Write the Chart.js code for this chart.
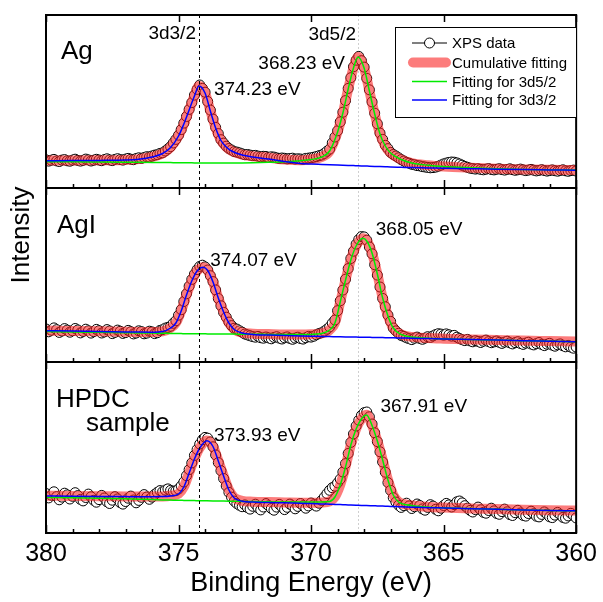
<!DOCTYPE html>
<html>
<head>
<meta charset="utf-8">
<title>Ag 3d XPS spectra</title>
<script src="https://cdn.jsdelivr.net/npm/chart.js@4.4.1/dist/chart.umd.min.js"></script>
<style>
  html, body { margin: 0; padding: 0; background: #ffffff; }
  canvas { display: block; }
</style>
</head>
<body>
<canvas id="xps" width="603" height="602"></canvas>
<script>
// ---------- measured spectra (binding energy in eV, intensity in a.u.) ----------
const dataEnergy = [
  380.0, 379.9, 379.8, 379.7, 379.6, 379.5, 379.4, 379.3, 379.2, 379.1,
  379.0, 378.9, 378.8, 378.7, 378.6, 378.5, 378.4, 378.3, 378.2, 378.1,
  378.0, 377.9, 377.8, 377.7, 377.6, 377.5, 377.4, 377.3, 377.2, 377.1,
  377.0, 376.9, 376.8, 376.7, 376.6, 376.5, 376.4, 376.3, 376.2, 376.1,
  376.0, 375.9, 375.8, 375.7, 375.6, 375.5, 375.4, 375.3, 375.2, 375.1,
  375.0, 374.9, 374.8, 374.7, 374.6, 374.5, 374.4, 374.3, 374.2, 374.1,
  374.0, 373.9, 373.8, 373.7, 373.6, 373.5, 373.4, 373.3, 373.2, 373.1,
  373.0, 372.9, 372.8, 372.7, 372.6, 372.5, 372.4, 372.3, 372.2, 372.1,
  372.0, 371.9, 371.8, 371.7, 371.6, 371.5, 371.4, 371.3, 371.2, 371.1,
  371.0, 370.9, 370.8, 370.7, 370.6, 370.5, 370.4, 370.3, 370.2, 370.1,
  370.0, 369.9, 369.8, 369.7, 369.6, 369.5, 369.4, 369.3, 369.2, 369.1,
  369.0, 368.9, 368.8, 368.7, 368.6, 368.5, 368.4, 368.3, 368.2, 368.1,
  368.0, 367.9, 367.8, 367.7, 367.6, 367.5, 367.4, 367.3, 367.2, 367.1,
  367.0, 366.9, 366.8, 366.7, 366.6, 366.5, 366.4, 366.3, 366.2, 366.1,
  366.0, 365.9, 365.8, 365.7, 365.6, 365.5, 365.4, 365.3, 365.2, 365.1,
  365.0, 364.9, 364.8, 364.7, 364.6, 364.5, 364.4, 364.3, 364.2, 364.1,
  364.0, 363.9, 363.8, 363.7, 363.6, 363.5, 363.4, 363.3, 363.2, 363.1,
  363.0, 362.9, 362.8, 362.7, 362.6, 362.5, 362.4, 362.3, 362.2, 362.1,
  362.0, 361.9, 361.8, 361.7, 361.6, 361.5, 361.4, 361.3, 361.2, 361.1,
  361.0, 360.9, 360.8, 360.7, 360.6, 360.5, 360.4, 360.3, 360.2, 360.1,
  360.0
];

const agData = [
  28.2, 26.9, 27.8, 28.6, 27.1, 26.5, 27.9, 28.4, 27.2, 26.8,
  27.9, 28.8, 27.6, 26.9, 27.7, 28.9, 28.1, 27.0, 27.8, 28.7,
  28.0, 27.3, 28.4, 29.2, 28.1, 27.4, 28.6, 29.3, 28.4, 27.9,
  28.9, 29.6, 28.8, 28.3, 29.5, 30.2, 29.6, 30.5, 31.3, 31.0,
  32.0, 32.9, 33.4, 34.6, 35.2, 37.0, 39.1, 41.4, 45.0, 48.6,
  52.8, 58.4, 64.9, 71.5, 78.6, 85.4, 92.9, 98.6, 103.0, 99.6,
  95.8, 86.5, 77.9, 68.9, 60.6, 54.4, 48.3, 44.9, 41.8, 39.5,
  38.0, 36.4, 35.9, 35.1, 34.2, 33.3, 33.5, 32.9, 32.4, 32.6,
  31.9, 31.2, 31.7, 31.5, 30.6, 31.2, 30.9, 30.1, 29.6, 30.0,
  29.7, 29.1, 29.5, 29.8, 28.9, 29.2, 29.0, 28.7, 29.6, 29.9,
  30.2, 30.8, 31.4, 32.3, 33.0, 34.6, 36.8, 38.9, 45.1, 51.0,
  57.2, 66.1, 75.8, 87.4, 99.6, 110.3, 121.2, 127.8, 131.6, 127.3,
  120.9, 109.7, 98.2, 86.1, 74.8, 64.2, 54.9, 48.6, 42.7, 39.4,
  35.6, 33.5, 32.0, 30.2, 28.4, 27.0, 25.6, 24.8, 23.7, 23.2,
  22.4, 22.1, 21.4, 21.0, 20.6, 20.2, 20.4, 20.9, 21.8, 22.9,
  24.1, 24.9, 25.6, 26.0, 25.8, 25.1, 24.0, 22.8, 21.6, 20.7,
  19.8, 19.4, 18.9, 19.3, 18.6, 18.2, 18.8, 19.4, 18.5, 18.1,
  18.7, 19.3, 18.4, 17.9, 18.6, 19.2, 18.3, 17.7, 18.2, 18.9,
  18.1, 17.4, 17.9, 18.6, 17.8, 17.1, 17.6, 18.3, 17.5, 16.9,
  17.4, 18.1, 17.3, 16.8, 17.5, 18.2, 17.2, 16.7, 17.4, 17.9,
  17.0
];

const agiData = [
  33.0, 30.2, 31.8, 34.1, 32.3, 29.6, 31.0, 33.4, 31.9, 29.8,
  31.2, 33.5, 32.0, 29.1, 30.6, 32.8, 31.2, 28.9, 30.4, 32.6,
  31.3, 29.0, 30.1, 32.4, 31.0, 28.4, 29.6, 31.9, 30.7, 28.6,
  29.4, 31.6, 30.3, 28.1, 29.0, 31.2, 30.4, 28.2, 28.9, 30.8,
  30.1, 28.4, 29.3, 31.6, 32.4, 33.9, 34.6, 35.8, 38.7, 41.2,
  46.8, 52.3, 60.5, 68.2, 75.8, 82.6, 87.9, 92.4, 95.6, 96.8,
  95.1, 92.0, 86.3, 80.4, 72.0, 63.5, 56.2, 49.6, 44.8, 39.9,
  36.4, 33.8, 32.9, 31.2, 29.8, 28.0, 27.1, 26.2, 25.4, 24.8,
  25.6, 24.3, 23.8, 25.0, 24.1, 23.2, 24.6, 25.3, 23.9, 23.0,
  24.2, 25.1, 23.6, 22.7, 23.9, 24.8, 23.5, 22.9, 24.3, 25.6,
  24.9, 25.8, 27.2, 28.5, 29.3, 30.9, 32.8, 35.1, 38.9, 42.0,
  51.3, 61.2, 71.9, 82.8, 93.4, 103.5, 110.8, 117.9, 122.6, 125.4,
  125.1, 121.8, 115.0, 108.2, 97.3, 86.9, 75.0, 63.6, 55.2, 46.9,
  40.6, 34.0, 31.1, 28.7, 26.5, 25.6, 24.2, 23.3, 22.4, 23.8,
  24.9, 23.6, 22.7, 23.9, 25.3, 24.6, 26.1, 27.4, 28.3, 27.9,
  26.8, 28.1, 27.2, 25.9, 26.6, 24.8, 23.5, 22.3, 21.4, 22.6,
  21.1, 20.2, 21.3, 20.6, 19.5, 20.8, 21.9, 20.4, 19.3, 20.1,
  21.0, 19.7, 18.6, 19.9, 20.8, 19.2, 18.1, 19.4, 20.3, 18.5,
  17.6, 18.9, 19.8, 18.0, 17.1, 18.4, 19.5, 17.6, 16.4, 17.8,
  18.7, 16.9, 15.8, 17.2, 18.1, 16.3, 15.2, 16.6, 14.9, 13.8,
  15.0
];

const hpdcData = [
  39.5, 35.1, 37.8, 41.2, 36.4, 33.2, 35.9, 39.8, 38.1, 34.0,
  36.7, 40.3, 37.4, 33.6, 32.1, 35.5, 38.9, 36.2, 32.7, 30.8,
  33.4, 37.6, 35.0, 31.2, 29.5, 32.8, 36.3, 34.1, 30.4, 28.9,
  31.5, 34.8, 36.9, 33.0, 30.2, 32.6, 35.7, 38.4, 36.0, 33.7,
  35.9, 38.6, 40.7, 42.4, 41.3, 42.9, 44.1, 42.6, 41.8, 42.3,
  44.0, 47.1, 51.0, 57.3, 63.4, 70.1, 77.6, 83.5, 89.0, 93.2,
  95.6, 94.8, 91.1, 86.2, 78.0, 70.4, 62.3, 54.5, 47.1, 40.6,
  35.8, 31.9, 29.4, 27.7, 26.3, 28.1, 25.4, 23.9, 26.7, 28.8,
  25.2, 23.1, 26.0, 29.4, 27.2, 24.5, 22.8, 25.9, 28.6, 26.1,
  23.4, 25.7, 28.9, 27.0, 24.2, 26.6, 29.5, 27.3, 24.8, 27.1,
  30.0, 28.2, 26.9, 29.8, 32.6, 35.9, 39.4, 42.7, 45.3, 46.8,
  50.1, 53.9, 61.0, 69.4, 79.5, 90.6, 99.1, 107.0, 112.8, 117.6,
  120.3, 121.0, 116.2, 109.0, 100.1, 91.4, 81.2, 71.0, 60.8, 50.4,
  42.6, 35.3, 30.9, 27.8, 25.6, 27.4, 29.8, 27.1, 24.5, 26.3,
  29.0, 27.5, 24.1, 22.8, 25.6, 28.3, 26.9, 23.7, 22.2, 24.8,
  27.5, 29.6, 28.1, 26.0, 28.4, 31.2, 32.0, 30.1, 27.3, 24.9,
  22.6, 21.0, 23.4, 25.9, 23.2, 20.7, 19.8, 22.5, 24.8, 22.1,
  19.6, 18.7, 21.4, 23.9, 21.2, 18.4, 17.5, 20.3, 22.7, 20.0,
  17.6, 16.9, 19.5, 21.8, 19.3, 16.8, 16.1, 18.6, 21.1, 18.9,
  16.2, 15.4, 17.9, 20.6, 18.4, 15.6, 14.8, 17.1, 19.7, 17.6,
  15.1
];

// ---------- peak fitting results ----------
const agFitEnergy = [
  380, 379, 378, 377, 376.5, 376, 375.6, 375.3, 375.0, 374.8,
  374.6, 374.4, 374.23, 374.0, 373.8, 373.6, 373.4, 373.2, 373.0, 372.6,
  372.2, 371.6, 371, 370.4, 370, 369.6, 369.3, 369.0, 368.8, 368.6,
  368.4, 368.23, 368.0, 367.8, 367.6, 367.4, 367.2, 367.0, 366.6, 366.2,
  365.6, 365, 364, 363, 362, 361, 360
];
const agCumulative = [
  27.4, 27.5, 27.7, 28.1, 28.9, 31.1, 34.6, 40.6, 52.1, 64.1,
  78.1, 92.1, 102.1, 95.1, 77.1, 60.1, 47.6, 41.1, 37.1, 33.4,
  31.8, 30.3, 28.5, 27.8, 28.7, 31.0, 37.0, 56.0, 75.0, 99.0,
  120.0, 131.0, 120.0, 97.0, 74.0, 54.0, 42.0, 35.0, 28.5, 25.0,
  22.8, 21.5, 20.2, 19.2, 18.6, 18.2, 17.9
];
const agFit52 = [
  26.3, 26.2, 26.0, 25.8, 25.7, 25.6, 25.5, 25.4, 25.3, 25.2,
  25.2, 25.1, 25.1, 25.0, 25.0, 25.0, 25.0, 25.0, 25.0, 25.1,
  25.3, 25.7, 26.3, 27.3, 28.5, 31.0, 37.0, 56.0, 75.0, 99.0,
  120.0, 131.0, 120.0, 97.0, 74.0, 54.0, 42.0, 35.0, 28.5, 25.0,
  22.8, 21.5, 20.2, 19.2, 18.6, 18.2, 17.9
];
const agFit32 = [
  27.3, 27.4, 27.6, 28.0, 28.8, 31.0, 34.5, 40.5, 52.0, 64.0,
  78.0, 92.0, 102.0, 95.0, 77.0, 60.0, 47.5, 41.0, 37.0, 33.0,
  31.0, 29.0, 26.5, 24.5, 24.0, 23.6, 23.3, 23.0, 22.8, 22.6,
  22.4, 22.2, 22.0, 21.8, 21.6, 21.4, 21.2, 21.0, 20.7, 20.4,
  20.1, 19.8, 19.3, 18.8, 18.4, 18.1, 17.8
];

const agiFitEnergy = [
  380, 379, 378, 377, 376.5, 376, 375.6, 375.3, 375.1, 374.9,
  374.7, 374.5, 374.3, 374.07, 373.9, 373.7, 373.5, 373.3, 373.1, 372.9,
  372.6, 372.2, 371.6, 371, 370.4, 370, 369.6, 369.3, 369.1, 368.9,
  368.7, 368.5, 368.3, 368.05, 367.9, 367.7, 367.5, 367.3, 367.1, 366.9,
  366.6, 366.2, 365.6, 365, 364, 363, 362, 361, 360
];
const agiCumulative = [
  31.4, 31.1, 30.7, 30.2, 30.0, 29.9, 30.6, 34.1, 39.1, 51.1,
  67.1, 81.1, 91.1, 94.8, 91.6, 80.1, 64.1, 50.1, 39.1, 32.7,
  29.4, 28.3, 27.9, 27.6, 27.6, 27.8, 28.6, 32.1, 39.1, 60.1,
  82.1, 102.1, 116.1, 123.8, 121.1, 109.1, 88.1, 64.1, 46.1, 34.1,
  27.6, 25.1, 23.9, 23.3, 22.6, 22.0, 21.4, 20.9, 20.4
];
const agiFit52 = [
  30.4, 30.1, 29.7, 29.3, 29.1, 28.9, 28.7, 28.6, 28.5, 28.4,
  28.3, 28.3, 28.2, 28.2, 28.1, 28.1, 28.0, 28.0, 27.9, 27.9,
  27.8, 27.7, 27.6, 27.5, 27.5, 27.6, 28.5, 32.0, 39.0, 60.0,
  82.0, 102.0, 116.0, 123.7, 121.0, 109.0, 88.0, 64.0, 46.0, 34.0,
  27.5, 25.0, 23.8, 23.2, 22.5, 21.9, 21.3, 20.8, 20.3
];
const agiFit32 = [
  31.3, 31.0, 30.6, 30.1, 29.9, 29.8, 30.5, 34.0, 39.0, 51.0,
  67.0, 81.0, 91.0, 94.7, 91.5, 80.0, 64.0, 50.0, 39.0, 32.5,
  29.0, 27.6, 27.0, 26.6, 26.1, 25.8, 25.6, 25.4, 25.3, 25.2,
  25.1, 25.0, 24.9, 24.8, 24.7, 24.6, 24.5, 24.4, 24.3, 24.2,
  24.0, 23.8, 23.4, 23.1, 22.5, 21.9, 21.3, 20.8, 20.3
];

const hpdcFitEnergy = [
  380, 379, 378, 377, 376.5, 376, 375.6, 375.3, 375.0, 374.8,
  374.6, 374.4, 374.2, 373.93, 373.7, 373.5, 373.3, 373.1, 372.9, 372.6,
  372.2, 371.6, 371, 370.4, 370, 369.6, 369.3, 369.1, 368.9, 368.7,
  368.5, 368.3, 368.1, 367.91, 367.7, 367.5, 367.3, 367.1, 366.9, 366.7,
  366.4, 366, 365.5, 365, 364, 363, 362, 361, 360
];
const hpdcCumulative = [
  37.2, 37.0, 36.8, 36.6, 36.5, 36.5, 36.6, 37.2, 39.2, 46.2,
  60.2, 74.2, 85.2, 92.5, 86.7, 72.2, 57.2, 43.2, 35.3, 32.2,
  31.3, 30.9, 30.6, 30.3, 30.2, 30.4, 31.6, 36.2, 48.2, 66.2,
  88.2, 104.2, 114.2, 118.2, 107.7, 92.2, 73.2, 53.2, 38.2, 31.2,
  28.4, 27.0, 26.0, 25.4, 24.6, 23.9, 23.3, 22.8, 22.4
];
const hpdcFit52 = [
  35.5, 35.2, 34.8, 34.2, 33.8, 33.4, 33.1, 32.9, 32.7, 32.6,
  32.5, 32.4, 32.3, 32.2, 32.1, 32.0, 31.9, 31.8, 31.7, 31.6,
  31.4, 31.2, 31.0, 30.9, 30.9, 31.0, 31.5, 36.0, 48.0, 66.0,
  88.0, 104.0, 114.0, 118.0, 107.5, 92.0, 73.0, 53.0, 38.0, 31.0,
  28.2, 26.8, 25.8, 25.2, 24.4, 23.7, 23.1, 22.6, 22.2
];
const hpdcFit32 = [
  37.0, 36.8, 36.6, 36.4, 36.3, 36.3, 36.4, 37.0, 39.0, 46.0,
  60.0, 74.0, 85.0, 92.3, 86.5, 72.0, 57.0, 43.0, 35.0, 31.8,
  30.9, 30.5, 30.2, 29.8, 29.4, 29.1, 28.8, 28.6, 28.4, 28.2,
  28.0, 27.8, 27.6, 27.5, 27.3, 27.1, 26.9, 26.7, 26.5, 26.3,
  26.0, 25.7, 25.3, 25.0, 24.3, 23.7, 23.1, 22.6, 22.2
];

// fitted peak centres (eV) for each sample
const samples = ['Ag', 'AgI', 'HPDC sample'];
const peak32 = [374.23, 374.07, 373.93];
const peak52 = [368.23, 368.05, 367.91];

// axis ticks
const majorTicks = [380, 375, 370, 365, 360];
const minorTicks = [379, 378, 377, 376, 374, 373, 372, 371, 369, 368, 367, 366, 364, 363, 362, 361];
const panelRanges = [173, 174, 171];

const legendLabels = ['XPS data', 'Cumulative fitting', 'Fitting for 3d5/2', 'Fitting for 3d3/2'];

// ---------- styling ----------
const FONT = '"Liberation Sans", Arial, Helvetica, sans-serif';
const COLORS = {
  data: '#000000',
  band: 'rgba(250, 30, 30, 0.58)',
  d52: 'rgb(0, 235, 0)',
  d32: '#0000ff'
};

const panels = [
  { energy: agFitEnergy, cum: agCumulative, f52: agFit52, f32: agFit32, meas: agData,
    title: ['Ag'], titlePos: [[61, 44]],
    lab32: [15, 9, 'left'], lab52: [-13, 12, 'right'] },
  { energy: agiFitEnergy, cum: agiCumulative, f52: agiFit52, f32: agiFit32, meas: agiData,
    title: ['AgI'], titlePos: [[57, 45]],
    lab32: [7, -1, 'left'], lab52: [13, -3, 'left'] },
  { energy: hpdcFitEnergy, cum: hpdcCumulative, f52: hpdcFit52, f32: hpdcFit32, meas: hpdcData,
    title: ['HPDC', 'sample'], titlePos: [[56, 45], [86, 69]],
    lab32: [7, 0, 'left'], lab52: [14, -3, 'left'] }
];

const toPoints = (xs, ys) => xs.map((x, i) => ({ x: x, y: ys[i] }));

const datasets = [];
panels.forEach((p, i) => {
  const axis = 'y' + (i + 1);
  datasets.push({
    label: legendLabels[3] + ' ' + samples[i], yAxisID: axis, order: 0,
    data: toPoints(p.energy, p.f32),
    borderColor: COLORS.d32, borderWidth: 1.5, pointRadius: 0,
    cubicInterpolationMode: 'monotone', fill: false
  });
  datasets.push({
    label: legendLabels[2] + ' ' + samples[i], yAxisID: axis, order: 1,
    data: toPoints(p.energy, p.f52),
    borderColor: COLORS.d52, borderWidth: 1.5, pointRadius: 0,
    cubicInterpolationMode: 'monotone', fill: false
  });
  datasets.push({
    label: legendLabels[1] + ' ' + samples[i], yAxisID: axis, order: 2,
    data: toPoints(p.energy, p.cum),
    borderColor: COLORS.band, borderWidth: 10, pointRadius: 0,
    borderJoinStyle: 'round', borderCapStyle: 'round',
    cubicInterpolationMode: 'monotone', fill: false
  });
  datasets.push({
    label: legendLabels[0] + ' ' + samples[i], yAxisID: axis, order: 3,
    data: toPoints(dataEnergy, p.meas),
    borderColor: COLORS.data, borderWidth: 1, tension: 0,
    pointRadius: 5, pointBorderWidth: 1,
    pointBackgroundColor: '#ffffff', pointBorderColor: COLORS.data, fill: false
  });
});

// stacked panels: left-side boxes are laid out last-defined-first,
// so the bottom panel is declared first
const yScales = {};
for (let i = panelRanges.length - 1; i >= 0; i--) {
  yScales['y' + (i + 1)] = {
    type: 'linear', position: 'left', stack: 'panels', stackWeight: panelRanges[i],
    min: 0, max: panelRanges[i], display: false
  };
}

function apexValue(p, e) {
  const k = p.energy.indexOf(e);
  return p.cum[k];
}

// frames, ticks, guide lines, labels and legend
const decor = {
  id: 'decor',
  beforeDatasetsDraw(chart) {
    const { ctx, chartArea: a, scales } = chart;
    const x = scales.x;
    ctx.save();
    ctx.lineWidth = 1;
    ctx.strokeStyle = '#cfcfcf';
    ctx.setLineDash([2, 2]);
    const px = Math.round(x.getPixelForValue(peak52[0])) + 0.5;
    ctx.beginPath(); ctx.moveTo(px, a.top); ctx.lineTo(px, a.bottom); ctx.stroke();
    ctx.restore();
  },
  afterDatasetsDraw(chart) {
    const { ctx, chartArea: a, scales } = chart;
    const x = scales.x;
    ctx.save();

    // dashed marker through the 3d3/2 line of the reference Ag sample
    ctx.lineWidth = 1;
    ctx.strokeStyle = '#000';
    ctx.setLineDash([3, 3]);
    const px = Math.round(x.getPixelForValue(peak32[0])) + 0.5;
    ctx.beginPath(); ctx.moveTo(px, a.top); ctx.lineTo(px, a.bottom); ctx.stroke();
    ctx.setLineDash([]);

    // panel frames and inward ticks
    panels.forEach((p, i) => {
      const ys = scales['y' + (i + 1)];
      ctx.lineWidth = 2;
      ctx.strokeStyle = '#000';
      ctx.strokeRect(a.left, ys.top, a.right - a.left, ys.bottom - ys.top);
      ctx.lineWidth = 1.5;
      ctx.beginPath();
      majorTicks.forEach(v => {
        const tx = Math.round(x.getPixelForValue(v)) + 0.5;
        ctx.moveTo(tx, ys.bottom); ctx.lineTo(tx, ys.bottom - 8);
        ctx.moveTo(tx, ys.top); ctx.lineTo(tx, ys.top + 7);
      });
      minorTicks.forEach(v => {
        const tx = Math.round(x.getPixelForValue(v)) + 0.5;
        ctx.moveTo(tx, ys.bottom); ctx.lineTo(tx, ys.bottom - 4);
      });
      ctx.stroke();

      // sample name
      ctx.fillStyle = '#000';
      ctx.font = '26px ' + FONT;
      ctx.textAlign = 'left';
      ctx.textBaseline = 'alphabetic';
      p.title.forEach((t, k) => {
        ctx.fillText(t, p.titlePos[k][0], ys.top + p.titlePos[k][1]);
      });

      // peak position labels
      ctx.font = '19px ' + FONT;
      [[peak32[i], p.lab32], [peak52[i], p.lab52]].forEach(([e, st]) => {
        const lx = x.getPixelForValue(e) + st[0];
        const ly = ys.getPixelForValue(apexValue(p, e)) + st[1];
        ctx.textAlign = st[2];
        ctx.fillText(e.toFixed(2) + ' eV', lx, ly);
      });
    });

    // orbital names over the guide lines
    ctx.font = '19px ' + FONT;
    ctx.textAlign = 'right';
    ctx.fillText('3d3/2', x.getPixelForValue(peak32[0]) - 3, a.top + 24);
    ctx.fillText('3d5/2', x.getPixelForValue(peak52[0]) - 2, a.top + 25);

    // legend
    const lg = { left: 395, top: 27, width: 181, height: 90, rows: [43, 62.5, 81.5, 100], x0: 412, x1: 447, tx: 452 };
    ctx.fillStyle = '#fff';
    ctx.fillRect(lg.left, lg.top, lg.width, lg.height);
    ctx.lineWidth = 1;
    ctx.strokeStyle = '#000';
    ctx.strokeRect(lg.left + 0.5, lg.top + 0.5, lg.width, lg.height);
    // XPS data sample
    ctx.beginPath(); ctx.moveTo(lg.x0, lg.rows[0]); ctx.lineTo(lg.x1, lg.rows[0]); ctx.stroke();
    ctx.beginPath(); ctx.arc((lg.x0 + lg.x1) / 2, lg.rows[0], 5, 0, Math.PI * 2);
    ctx.fillStyle = '#fff'; ctx.fill(); ctx.stroke();
    // cumulative fit sample
    ctx.save();
    ctx.lineCap = 'round';
    ctx.lineWidth = 10;
    ctx.strokeStyle = COLORS.band;
    ctx.beginPath(); ctx.moveTo(lg.x0 + 1, lg.rows[1]); ctx.lineTo(lg.x1 - 1, lg.rows[1]); ctx.stroke();
    ctx.restore();
    // component samples
    ctx.lineWidth = 1.5;
    ctx.strokeStyle = COLORS.d52;
    ctx.beginPath(); ctx.moveTo(lg.x0, lg.rows[2]); ctx.lineTo(lg.x1, lg.rows[2]); ctx.stroke();
    ctx.strokeStyle = COLORS.d32;
    ctx.beginPath(); ctx.moveTo(lg.x0, lg.rows[3]); ctx.lineTo(lg.x1, lg.rows[3]); ctx.stroke();
    ctx.fillStyle = '#000';
    ctx.font = '15px ' + FONT;
    ctx.textAlign = 'left';
    ctx.textBaseline = 'middle';
    legendLabels.forEach((t, k) => ctx.fillText(t, lg.tx, lg.rows[k] + 1));

    // shared intensity axis title
    ctx.translate(22, 235);
    ctx.rotate(-Math.PI / 2);
    ctx.textAlign = 'center';
    ctx.textBaseline = 'middle';
    ctx.font = '26px ' + FONT;
    ctx.fillText('Intensity', 0, 0);
    ctx.restore();
  }
};

new Chart(document.getElementById('xps'), {
  type: 'line',
  data: { datasets: datasets },
  options: {
    responsive: false,
    devicePixelRatio: 1,
    animation: false,
    layout: { padding: { left: 46, right: 24, top: 15, bottom: 0 } },
    plugins: { legend: { display: false }, tooltip: { enabled: false } },
    scales: Object.assign({
      x: {
        type: 'linear', position: 'bottom', min: 360, max: 380, reverse: true,
        afterBuildTicks: axis => { axis.ticks = majorTicks.map(v => ({ value: v })); },
        grid: { display: false, drawTicks: false },
        border: { display: false },
        ticks: { color: '#000', padding: 6, font: { family: FONT, size: 25, lineHeight: 1.2 } },
        title: {
          display: true, text: 'Binding Energy (eV)', color: '#000',
          font: { family: FONT, size: 27, lineHeight: 1 },
          padding: { top: -5, bottom: 5 }
        }
      }
    }, yScales)
  },
  plugins: [decor]
});
</script>
</body>
</html>
